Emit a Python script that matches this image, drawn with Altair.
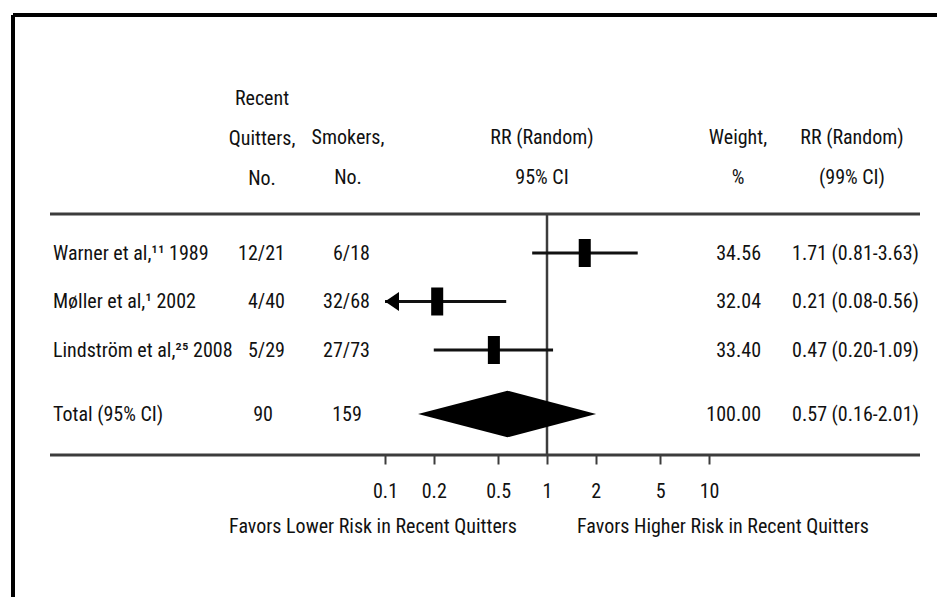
import altair as alt
import pandas as pd

# ---- data -------------------------------------------------------------
studies = ["Warner et al,¹¹ 1989", "Møller et al,¹ 2002", "Lindström et al,²⁵ 2008"]
quitters = ["12/21", "4/40", "5/29"]
smokers = ["6/18", "32/68", "27/73"]
rr = [1.71, 0.21, 0.47]
ci_low = [0.81, 0.08, 0.20]
ci_high = [3.63, 0.56, 1.09]
weights = [34.56, 32.04, 33.40]

total_label = "Total (95% CI)"
total_quitters = "90"
total_smokers = "159"
total_rr = 0.57
total_low = 0.16
total_high = 2.01
total_weight = 100.00

tick_values = [0.1, 0.2, 0.5, 1, 2, 5, 10]
null_value = 1
favors = ["Favors Lower Risk in Recent Quitters", "Favors Higher Risk in Recent Quitters"]

# ---- styling ----------------------------------------------------------
FONT = "Roboto Condensed, Arial Narrow, Roboto, Liberation Sans, sans-serif"
FS = 20
INK = "#111111"
RULE = "#3c3c3c"
X_MIN = 0.1  # left limit of the RR axis; intervals beyond it end in an arrow

rows = pd.DataFrame({
    "study": studies + [total_label],
    "quitters": quitters + [total_quitters],
    "smokers": smokers + [total_smokers],
    "rr": rr + [total_rr],
    "lo": ci_low + [total_low],
    "hi": ci_high + [total_high],
    "weight": weights + [total_weight],
    "kind": ["study"] * len(studies) + ["total"],
    "idx": list(range(len(studies) + 1)),
})
rows["weight_text"] = [f"{w:.2f}" for w in rows["weight"]]
rows["rr_text"] = [f"{r:.2f} ({a:.2f}-{b:.2f})" for r, a, b in zip(rows["rr"], rows["lo"], rows["hi"])]

# diamond outline for the pooled estimate: low end, centre, high end
diamond = pd.DataFrame({
    "x": [total_low, total_rr, total_high],
    "half": [0.0, 1.0, 0.0],
})
diamond["row"] = len(studies)

xscale = alt.Scale(type="log", domain=[0.1, 10], range=[385, 709], nice=False)
yscale = alt.Scale(domain=[0, 3.32], range=[253, 414], nice=False, zero=False)
xaxis = alt.Axis(values=tick_values, format="~g", title=None, domain=False, grid=False,
                 ticks=True, tickSize=9, tickWidth=2, tickColor=RULE,
                 labelFont=FONT, labelFontSize=FS, labelColor=INK, labelPadding=17,
                 labelFlush=False, labelOverlap=False, offset=-142)

base = alt.Chart(rows).transform_calculate(
    ypos="datum.idx + (datum.kind == 'total' ? 0.32 : 0)"
)
Y = alt.Y("ypos:Q", scale=yscale, axis=None)

one = alt.Data(values=[{}])


def fixed_rule(x, x2, y, y2, width, color):
    return alt.Chart(one).mark_rule(color=color, strokeWidth=width).encode(
        x=alt.value(x), x2=alt.value(x2), y=alt.value(y), y2=alt.value(y2))


def header(x, lines, y):
    return alt.Chart(one).mark_text(
        font=FONT, fontSize=FS, color=INK, align="center", baseline="alphabetic", lineHeight=40
    ).encode(x=alt.value(x), y=alt.value(y), text=alt.value(lines))


# frame and table rules
frame_top = fixed_rule(13, 937, 15, 15, 4, "#000000")
frame_left = fixed_rule(13, 13, 15, 597, 4, "#000000")
rule_top = fixed_rule(50, 920, 214, 214, 3, RULE)
rule_bottom = fixed_rule(50, 920, 455, 455, 3, RULE)

headers = [
    header(262, ["Recent", "Quitters,", "No."], 105),
    header(348, ["Smokers,", "No."], 144),
    header(542, ["RR (Random)", "95% CI"], 144),
    header(738, ["Weight,", "%"], 144),
    header(852, ["RR (Random)", "(99% CI)"], 144),
]

null_line = alt.Chart(pd.DataFrame({"v": [null_value]})).mark_rule(
    color=RULE, strokeWidth=2.5
).encode(x=alt.X("v:Q", scale=xscale, axis=xaxis), y=alt.value(214), y2=alt.value(455))

studies_only = base.transform_filter("datum.kind == 'study'")

ci_lines = studies_only.transform_calculate(
    lo_draw=f"max(datum.lo, {X_MIN})"
).mark_rule(color=INK, strokeWidth=3).encode(
    x=alt.X("lo_draw:Q", scale=xscale, axis=xaxis), x2="hi:Q", y=Y)

arrows = studies_only.transform_filter(f"datum.lo < {X_MIN}").transform_calculate(
    tip=f"{X_MIN}"
).mark_point(shape="M0,0L1,-0.68L1,0.68Z", filled=True, size=784, color="#000000", opacity=1).encode(
    x=alt.X("tip:Q", scale=xscale, axis=xaxis), y=Y)

boxes = studies_only.mark_point(
    shape="M-0.43,-1L0.43,-1L0.43,1L-0.43,1Z", filled=True, size=784, color="#000000", opacity=1
).encode(x=alt.X("rr:Q", scale=xscale, axis=xaxis), y=Y)

pooled = alt.Chart(diamond).transform_calculate(
    top="datum.row + 0.32 - 0.48 * datum.half",
    bottom="datum.row + 0.32 + 0.48 * datum.half",
).mark_area(color="#000000", orient="vertical", opacity=1).encode(
    x=alt.X("x:Q", scale=xscale, axis=xaxis),
    y=alt.Y("top:Q", scale=yscale, axis=None),
    y2="bottom:Q")


def column(field, x, align, data=base):
    return data.mark_text(font=FONT, fontSize=FS, color=INK, align=align, baseline="middle", dy=1).encode(
        x=alt.value(x), y=Y, text=f"{field}:N")


totals_only = base.transform_filter("datum.kind == 'total'")

cols = [
    column("study", 53, "left"),
    column("quitters", 285, "right", studies_only),
    column("smokers", 370, "right", studies_only),
    column("quitters", 263, "center", totals_only),
    column("smokers", 347, "center", totals_only),
    column("weight_text", 761, "right"),
    column("rr_text", 919, "right"),
]

favor_df = pd.DataFrame({"v": [null_value, null_value], "label": favors, "side": ["lo", "hi"]})
favor_lo = alt.Chart(favor_df).transform_filter("datum.side == 'lo'").mark_text(
    font=FONT, fontSize=FS, color=INK, align="right", baseline="alphabetic", dx=-30
).encode(x=alt.X("v:Q", scale=xscale, axis=xaxis), y=alt.value(533), text="label:N")
favor_hi = alt.Chart(favor_df).transform_filter("datum.side == 'hi'").mark_text(
    font=FONT, fontSize=FS, color=INK, align="left", baseline="alphabetic", dx=30
).encode(x=alt.X("v:Q", scale=xscale, axis=xaxis), y=alt.value(533), text="label:N")

chart = alt.layer(
    frame_top, frame_left, rule_top, rule_bottom, *headers,
    null_line, ci_lines, arrows, boxes, pooled, *cols, favor_lo, favor_hi,
).properties(
    width=937, height=597, padding=0, autosize="none", background="white"
).configure_view(stroke=None)

chart.save("out.html", embed_options={"renderer": "svg", "actions": False})
